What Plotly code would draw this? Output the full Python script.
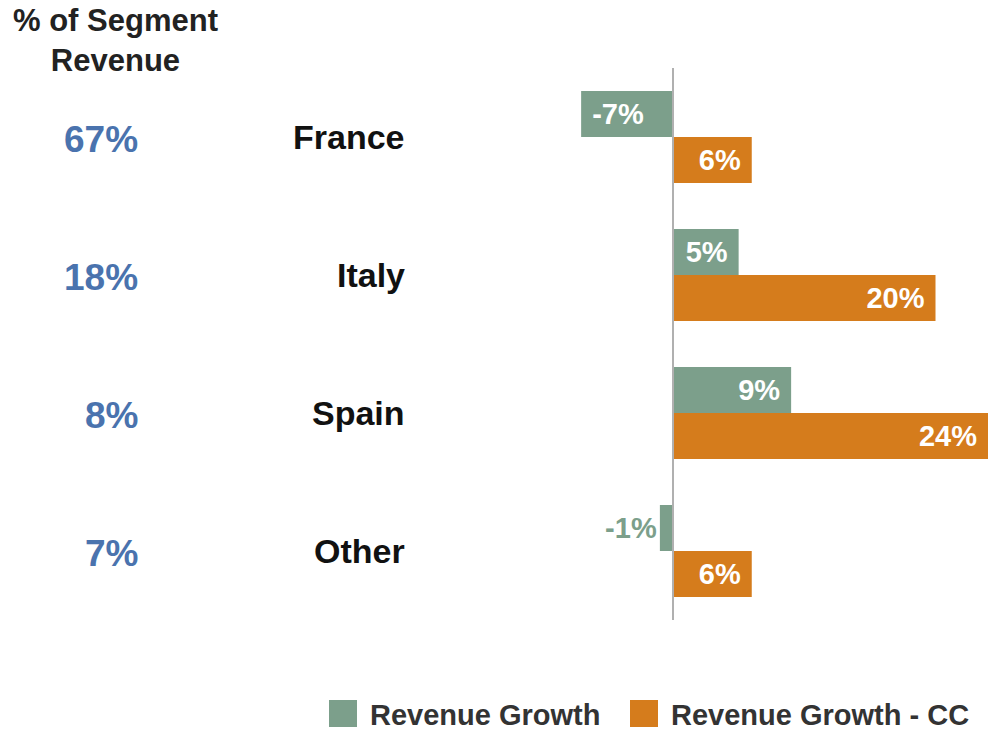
import plotly.graph_objects as go

# Segment data
countries = ["France", "Italy", "Spain", "Other"]
segment_share = ["67%", "18%", "8%", "7%"]
revenue_growth = [-7, 5, 9, -1]
revenue_growth_cc = [6, 20, 24, 6]

GREEN = "#7c9f8b"
ORANGE = "#d57c1c"
BLUE = "#4a73ae"
DARK = "#222222"
FONT = "Liberation Sans"
NBSP = "\u00a0"

W, H = 988, 733
ypos = list(range(len(countries)))

def px_x(px):
    return px / W

def px_y(py):
    return 1 - py / H

def bar_label(v, inside):
    # pad inside labels away from the bar tip
    s = f"{v}%"
    if not inside:
        return s
    return NBSP + s if v < 0 else s + NBSP

fig = go.Figure()

green_pos = ["inside" if abs(v) >= 3 else "outside" for v in revenue_growth]
green_txtcol = ["white" if p == "inside" else GREEN for p in green_pos]
green_text = [bar_label(v, p == "inside") for v, p in zip(revenue_growth, green_pos)]

fig.add_trace(go.Bar(
    y=ypos, x=revenue_growth, orientation="h", name="Revenue Growth",
    marker=dict(color=GREEN, line=dict(width=0)),
    text=green_text,
    textposition=green_pos,
    insidetextanchor="end",
    textfont=dict(family=FONT, size=29, color=green_txtcol, weight="bold"),
    cliponaxis=False, showlegend=False,
))
fig.add_trace(go.Bar(
    y=ypos, x=revenue_growth_cc, orientation="h", name="Revenue Growth - CC",
    marker=dict(color=ORANGE, line=dict(width=0)),
    text=[bar_label(v, True) for v in revenue_growth_cc],
    textposition="inside",
    insidetextanchor="end",
    textfont=dict(family=FONT, size=29, color="white", weight="bold"),
    cliponaxis=False, showlegend=False,
))

# axis scale: 0 at x=673px, 24 at the right edge
px_per_unit = 315 / 24
x_left = -673 / px_per_unit
x_right = 24.0
# category spacing of 138px, first category centred at y=137px
span = H / 138
y_top = -137 / 138
y_bottom = y_top + span

annotations = []
# header
annotations.append(dict(
    x=px_x(115), y=px_y(1), xref="paper", yref="paper",
    text="% of Segment<br>Revenue", showarrow=False,
    xanchor="center", yanchor="top", align="center",
    font=dict(family=FONT, size=31, color=DARK, weight="bold"),
))
for i, (c, s) in enumerate(zip(countries, segment_share)):
    annotations.append(dict(
        x=px_x(140), y=i, xref="paper", yref="y", yshift=-2,
        text=s, showarrow=False, xanchor="right", yanchor="middle",
        font=dict(family=FONT, size=37, color=BLUE, weight="bold"),
    ))
    annotations.append(dict(
        x=px_x(407), y=i, xref="paper", yref="y",
        text=c, showarrow=False, xanchor="right", yanchor="middle",
        font=dict(family=FONT, size=34, color="#111111", weight="bold"),
    ))

# legend
shapes = []
legend_items = [("Revenue Growth", GREEN, 329), ("Revenue Growth - CC", ORANGE, 630)]
for label, col, x0 in legend_items:
    shapes.append(dict(
        type="rect", xref="paper", yref="paper",
        x0=px_x(x0), x1=px_x(x0 + 28), y0=px_y(727), y1=px_y(700),
        fillcolor=col, line=dict(width=0),
    ))
    annotations.append(dict(
        x=px_x(x0 + 39), y=px_y(715), xref="paper", yref="paper",
        text=label, showarrow=False, xanchor="left", yanchor="middle",
        font=dict(family=FONT, size=29, color="#333333", weight="bold"),
    ))

# zero line
shapes.append(dict(
    type="line", xref="x", yref="paper", x0=0, x1=0,
    y0=px_y(620), y1=px_y(68), line=dict(color="#b0b0b0", width=2), layer="above",
))

fig.update_layout(
    width=W, height=H,
    margin=dict(l=0, r=0, t=0, b=0),
    paper_bgcolor="white", plot_bgcolor="white",
    barmode="group", bargap=0.333, bargroupgap=0,
    xaxis=dict(range=[x_left, x_right], visible=False, fixedrange=True),
    yaxis=dict(range=[y_bottom, y_top], visible=False, fixedrange=True),
    annotations=annotations, shapes=shapes,
    uniformtext=dict(minsize=10, mode="show"),
)

fig.write_html("out.html")
